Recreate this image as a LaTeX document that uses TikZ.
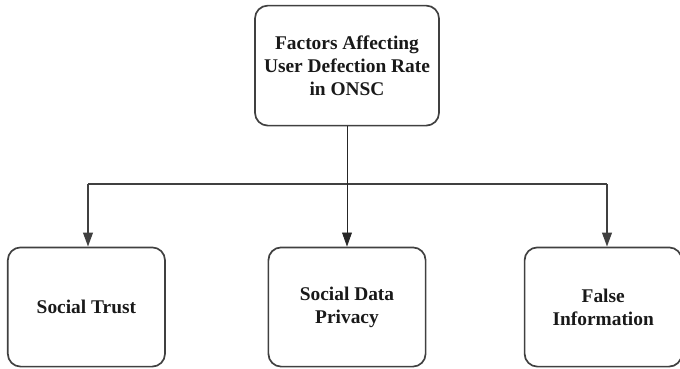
\documentclass[tikz,border=0pt]{standalone}
\usepackage{fontspec}
\setmainfont{Liberation Serif}
\usepackage{tikz}
\usetikzlibrary{arrows.meta,positioning}

\begin{document}
\begin{tikzpicture}[
      box/.style={draw=black!75, line width=1.2pt, rounded corners=0.32cm, align=center, text=black!90,
                  font=\fontsize{13.8}{16.4}\selectfont\bfseries},
      topbox/.style={box, minimum width=4.6cm, minimum height=3.0cm},
      leafbox/.style={box, minimum width=3.93cm, minimum height=2.98cm},
      link/.style={draw=black!75, line width=1.1pt},
      arr/.style={link, -{Triangle[length=10pt,width=7pt]}}
    ]
    \useasboundingbox (0,0) rectangle (17,-9.2);
    \node[topbox] (root) at (8.675,-1.64) {Factors Affecting\\User Defection Rate\\in ONSC};

    \node[leafbox] (trust) at (2.16,-7.675) {Social Trust};
    \node[leafbox] (priv) at (8.675,-7.675) {Social Data\\Privacy};
    \node[leafbox] (info) at (15.08,-7.675) {False\\Information};

    \coordinate (barl) at (2.2,-4.6);
    \coordinate (barr) at (15.175,-4.6);

    \draw[link, line width=1.2pt] (barl) -- (barr);
    \draw[arr, line width=0.6pt, draw=black!85] (root) -- (priv);
    \draw[arr] (barl) -- (barl |- trust.north);
    \draw[arr] (barr) -- (barr |- info.north);
  \end{tikzpicture}
\end{document}
